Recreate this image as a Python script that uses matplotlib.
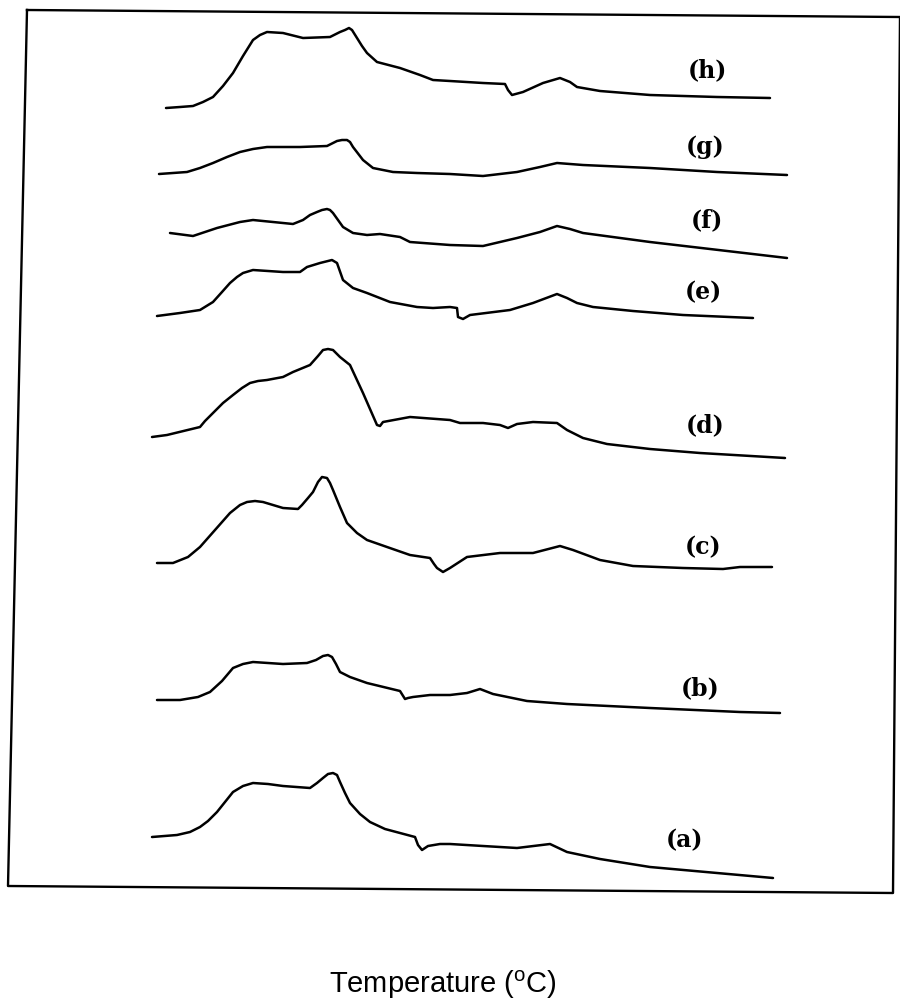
import matplotlib.pyplot as plt
from matplotlib.lines import Line2D

plt.rcParams['mathtext.fontset'] = 'custom'
plt.rcParams['mathtext.rm'] = 'Liberation Sans'

# DSC traces (x: temperature scale, y: signal, page units)
a_x = [152, 177, 190, 200, 208, 217, 225, 233, 243, 253, 268, 283, 310, 317, 323, 328, 333, 337, 340, 345, 350, 360, 370, 385, 400, 415, 418, 422, 428, 440, 450, 483, 517, 550, 567, 600, 650, 717, 773]
a_y = [837, 835, 832, 827, 821, 812, 802, 792, 786, 783, 784, 786, 788, 783, 778, 774, 773, 775, 782, 793, 803, 814, 822, 829, 833, 837, 845, 850, 846, 844, 844, 846, 848, 844, 852, 859, 867, 873, 878]

b_x = [157, 180, 198, 210, 222, 233, 243, 253, 283, 307, 316, 323, 328, 332, 336, 340, 350, 367, 400, 405, 408, 413, 430, 450, 467, 480, 493, 527, 567, 650, 740, 780]
b_y = [700, 700, 697, 692, 681, 668, 664, 662, 664, 663, 660, 656, 655, 657, 664, 672, 677, 683, 691, 699, 698, 697, 695, 695, 693, 689, 694, 701, 704, 708, 712, 713]

c_x = [157, 173, 188, 200, 215, 230, 240, 247, 255, 263, 283, 298, 302, 308, 313, 318, 322, 327, 330, 333, 340, 347, 357, 367, 387, 410, 430, 434, 437, 443, 450, 467, 500, 533, 560, 573, 600, 633, 683, 723, 740, 772]
c_y = [563, 563, 557, 547, 530, 513, 505, 502, 501, 502, 508, 509, 505, 498, 492, 482, 477, 478, 483, 490, 507, 523, 533, 540, 547, 555, 558, 564, 568, 572, 568, 557, 553, 553, 546, 550, 560, 566, 568, 569, 567, 567]

d_x = [152, 167, 200, 205, 213, 223, 233, 242, 250, 258, 267, 283, 293, 310, 318, 323, 328, 333, 340, 350, 363, 377, 380, 383, 410, 450, 460, 483, 500, 508, 517, 533, 557, 567, 583, 607, 650, 700, 785]
d_y = [437, 435, 427, 421, 413, 403, 395, 388, 383, 381, 380, 377, 372, 365, 356, 350, 349, 350, 357, 365, 393, 425, 426, 422, 417, 420, 423, 423, 425, 428, 424, 422, 423, 430, 438, 444, 449, 453, 458]

e_x = [157, 180, 200, 213, 222, 230, 237, 243, 253, 283, 300, 307, 320, 328, 332, 337, 343, 353, 367, 390, 417, 433, 450, 457, 458, 463, 470, 510, 533, 557, 567, 577, 593, 633, 683, 753]
e_y = [316, 313, 310, 302, 292, 283, 277, 273, 270, 272, 272, 267, 263, 261, 260, 263, 280, 288, 293, 302, 307, 308, 307, 308, 317, 319, 315, 310, 303, 294, 298, 303, 307, 311, 315, 318]

f_x = [170, 193, 217, 240, 253, 273, 293, 303, 310, 317, 322, 327, 330, 333, 343, 353, 367, 380, 400, 410, 450, 483, 517, 540, 557, 570, 583, 650, 710, 787]
f_y = [233, 236, 228, 222, 220, 222, 224, 220, 215, 212, 210, 209, 210, 213, 227, 233, 235, 234, 237, 242, 245, 246, 238, 232, 226, 229, 233, 242, 249, 258]

g_x = [159, 187, 200, 213, 227, 240, 253, 267, 300, 327, 333, 337, 342, 347, 350, 353, 363, 373, 393, 417, 450, 483, 517, 540, 557, 583, 650, 717, 787]
g_y = [174, 172, 168, 163, 157, 152, 149, 147, 147, 146, 143, 141, 140, 140, 142, 147, 160, 168, 172, 173, 174, 176, 172, 167, 163, 165, 168, 172, 175]

h_x = [166, 180, 193, 203, 213, 223, 233, 243, 253, 260, 267, 283, 303, 330, 336, 340, 345, 349, 352, 357, 362, 367, 377, 400, 420, 433, 450, 483, 505, 508, 512, 523, 543, 560, 570, 577, 600, 650, 717, 770]
h_y = [108, 107, 106, 102, 97, 86, 73, 56, 40, 35, 32, 33, 38, 37, 34, 32, 30, 28, 30, 38, 46, 53, 62, 68, 75, 80, 81, 83, 84, 90, 95, 92, 83, 78, 82, 87, 91, 95, 97, 98]

curves = [(a_x, a_y), (b_x, b_y), (c_x, c_y), (d_x, d_y),
          (e_x, e_y), (f_x, f_y), (g_x, g_y), (h_x, h_y)]
labels = ['(a)', '(b)', '(c)', '(d)', '(e)', '(f)', '(g)', '(h)']
label_x = [685, 700, 703, 705, 703, 707, 705, 707]
label_y = [840, 688, 547, 425, 292, 220, 147, 70]

fig = plt.figure(figsize=(9, 10.01), dpi=100)
ax = fig.add_axes([0, 0, 1, 1])
ax.set_xlim(0, 900)
ax.set_ylim(1001, 0)
ax.axis('off')

# slightly skewed frame, as in the scan
frame_x = [27, 900, 893, 8, 27]
frame_y = [10, 17, 893, 886, 10]
ax.add_line(Line2D(frame_x, frame_y, color='black', lw=1.7))

for (x, y) in curves:
    ax.plot(x, y, color='black', lw=1.8, solid_joinstyle='round', solid_capstyle='round')

for lab, lx, ly in zip(labels, label_x, label_y):
    ax.text(lx, ly, lab, fontsize=17, fontweight='bold', family='DejaVu Serif',
            ha='center', va='center')

ax.text(443, 985, r'Temperature ($^{\mathrm{o}}$C)', fontsize=21, family='Liberation Sans',
        ha='center', va='center')

fig.savefig('out.png', dpi=100)
